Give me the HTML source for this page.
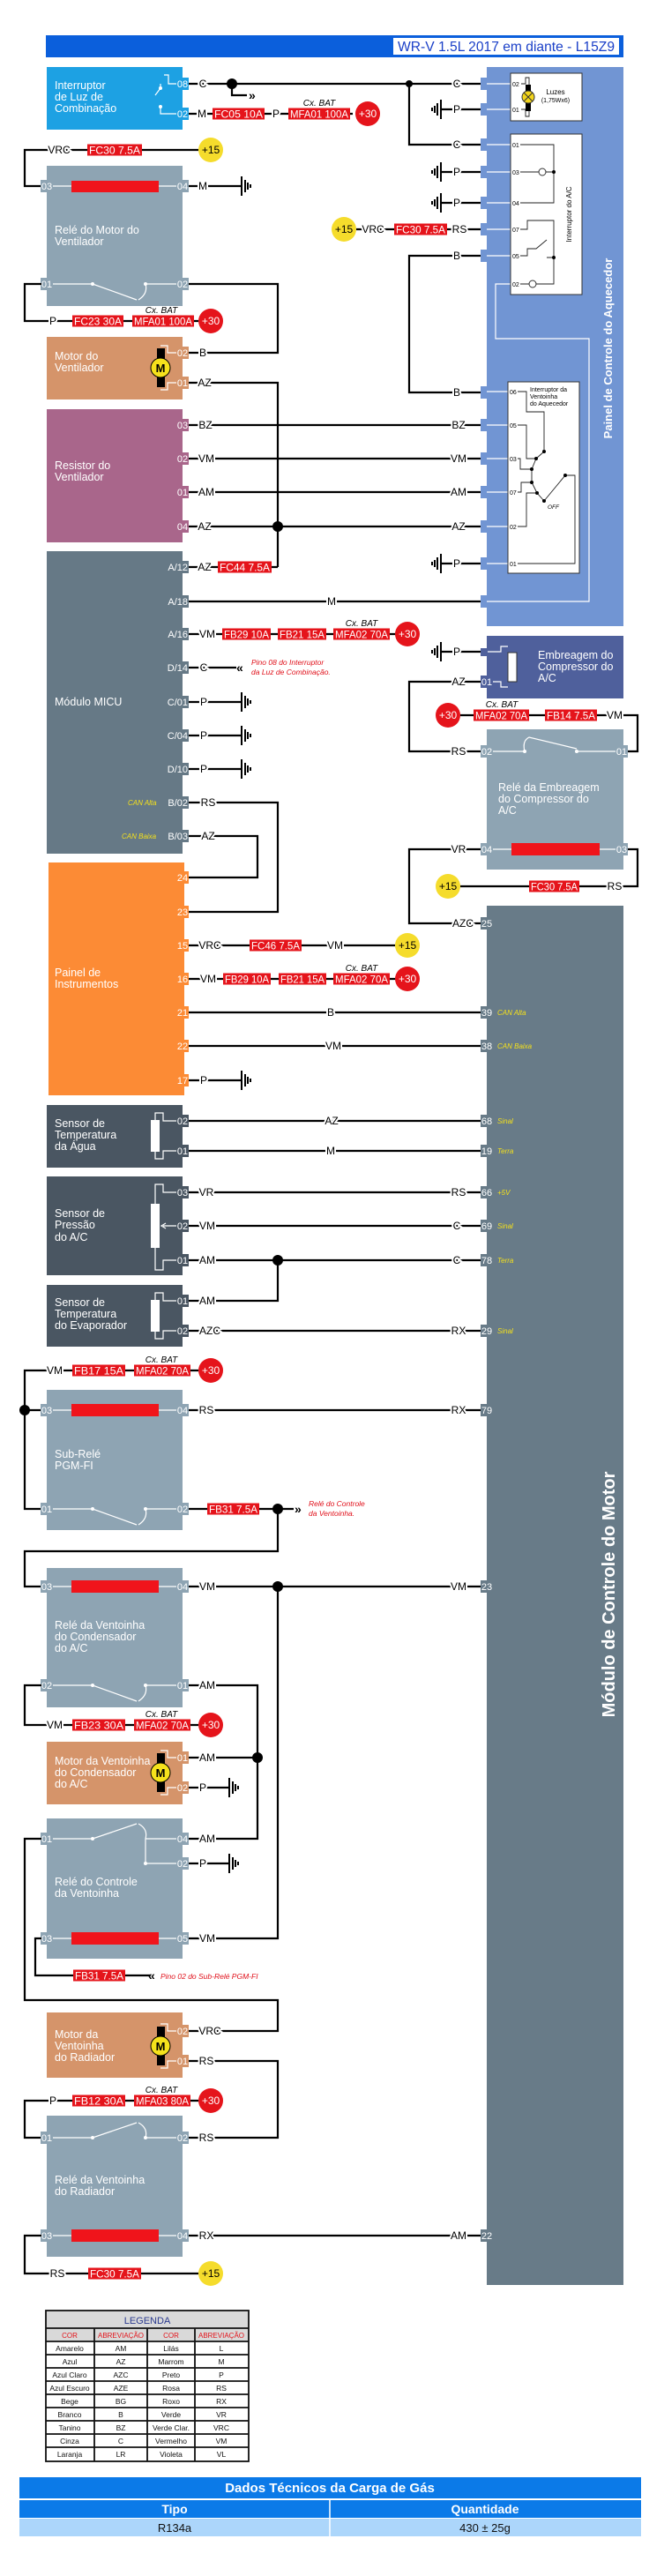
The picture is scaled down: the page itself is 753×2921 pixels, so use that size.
<!DOCTYPE html>
<html><head><meta charset="utf-8"><style>
html,body{margin:0;padding:0;background:#fff}
svg{display:block}
text{font-family:"Liberation Sans",sans-serif}
.w{stroke:#000;stroke-width:2.2;fill:none}
.tn{stroke:#222;stroke-width:0.9;fill:none}
.t{font-size:12px;fill:#000;stroke:#fff;stroke-width:4px;paint-order:stroke;text-anchor:middle}
.f{font-size:12px;fill:#fff;text-anchor:middle}
.p{font-size:11px;fill:#fff;text-anchor:middle}
.pb{font-size:11px;fill:#fff;text-anchor:end}
.bx{font-size:12.5px;fill:#fff}
.cx{font-size:10px;font-style:italic;text-anchor:middle}
.y{font-size:8px;font-style:italic;fill:#f4e01c}
.r{font-size:8.5px;font-style:italic;fill:#e0101a}
.sw{stroke:#fff;stroke-width:1.2;fill:none}
.ip{font-size:7px;fill:#000}
.lg{font-size:8.5px;fill:#111;text-anchor:middle}
</style></head><body>
<svg width="753" height="2921" viewBox="0 0 753 2921" xmlns="http://www.w3.org/2000/svg">
<defs>
<path id="gl" d="M0,-11V11M4,-7V7M7,-4V4M10,-2V2" stroke="#000" stroke-width="2" fill="none"/>
<path id="gr" d="M0,-11V11M-4,-7V7M-7,-4V4M-10,-2V2" stroke="#000" stroke-width="2" fill="none"/>
</defs>

<!-- Title -->
<rect x="52" y="40" width="655" height="25" fill="#0b5fdc"/>
<rect x="446" y="43" width="256" height="19" fill="#fff"/>
<text x="574" y="58" font-size="16" fill="#1a3fc8" text-anchor="middle" textLength="246" lengthAdjust="spacingAndGlyphs">WR-V 1.5L 2017 em diante - L15Z9</text>

<!-- Heater panel -->
<rect x="552" y="76" width="155" height="634" fill="#7195d3"/>
<g fill="#7195d3">
<rect x="545" y="88" width="8" height="14"/><rect x="545" y="117" width="8" height="14"/><rect x="545" y="157" width="8" height="14"/><rect x="545" y="188" width="8" height="14"/><rect x="545" y="223" width="8" height="14"/><rect x="545" y="253" width="8" height="14"/><rect x="545" y="283" width="8" height="14"/><rect x="545" y="438" width="8" height="14"/><rect x="545" y="475" width="8" height="14"/><rect x="545" y="513" width="8" height="14"/><rect x="545" y="551" width="8" height="14"/><rect x="545" y="590" width="8" height="14"/><rect x="545" y="632" width="8" height="14"/><rect x="545" y="675" width="8" height="14"/>
</g>
<text transform="translate(694,395) rotate(-90)" font-size="13" font-weight="bold" fill="#fff" text-anchor="middle">Painel de Controle do Aquecedor</text>
<g stroke="#fff" stroke-width="1.2" fill="none">
<path d="M552,95H579M552,124H579M552,164H579M552,195H579M552,230H579M552,260H579M552,290H579M552,444H576M552,482H576M552,520H576M552,558H576M552,597H576M552,639H576"/>
<path d="M579,322H562V384H668V682H552"/>
</g>
<!-- Luzes box -->
<rect x="579" y="83" width="81" height="54" fill="#fff" stroke="#333" stroke-width="1"/>
<text class="ip" x="581" y="98">02</text><text class="ip" x="581" y="127">01</text>
<path class="tn" d="M591,95H596V88H600V132H596V124H591"/>
<rect x="596" y="96" width="6" height="30" fill="#000"/>
<circle cx="599" cy="110" r="7" fill="#f3d51c" stroke="#333"/>
<path d="M594,105L604,115M604,105L594,115" stroke="#333" stroke-width="1"/>
<text x="630" y="107" font-size="8" text-anchor="middle">Luzes</text>
<text x="630" y="116" font-size="7" text-anchor="middle">(1,75Wx6)</text>
<!-- A/C switch box -->
<rect x="579" y="152" width="81" height="182" fill="#fff" stroke="#333" stroke-width="1"/>
<g class="ip"><text x="581" y="167">01</text><text x="581" y="198">03</text><text x="581" y="233">04</text><text x="581" y="263">07</text><text x="581" y="293">05</text><text x="581" y="325">02</text></g>
<path class="tn" d="M590,164H628V230H590M590,195H628M590,260H598V250H628V310M590,290H598V282H608L620,272M620,292H628M590,322H628V310"/>
<circle cx="615" cy="195" r="4" fill="#fff" stroke="#333"/><circle cx="604" cy="322" r="4" fill="#fff" stroke="#333"/>
<circle cx="628" cy="292" r="2" fill="#000"/><circle cx="628" cy="195" r="2" fill="#000"/>
<text transform="translate(648,243) rotate(-90)" font-size="8" text-anchor="middle">Interruptor do A/C</text>
<!-- Fan switch box -->
<rect x="576" y="433" width="81" height="217" fill="#fff" stroke="#333" stroke-width="1"/>
<g class="ip"><text x="578" y="447">06</text><text x="578" y="485">05</text><text x="578" y="523">03</text><text x="578" y="561">07</text><text x="578" y="600">02</text><text x="578" y="642">01</text></g>
<text x="601" y="444" font-size="7">Interruptor da</text><text x="601" y="452" font-size="7">Ventoinha</text><text x="601" y="460" font-size="7">do Aquecedor</text>
<path class="tn" d="M587,444H597V467H617V512M587,482H597V520H608L617,512M587,520H590V532H603L608,520M603,532V547L609,559L617,568M587,558H591V547H603M587,597H597V559H609M587,639H652V539H641L617,568"/>
<g fill="#000"><circle cx="617" cy="512" r="2"/><circle cx="608" cy="520" r="2"/><circle cx="603" cy="532" r="2"/><circle cx="603" cy="547" r="2"/><circle cx="609" cy="559" r="2"/><circle cx="617" cy="568" r="2"/><circle cx="641" cy="539" r="2"/></g>
<text x="621" y="577" font-size="6.5" font-style="italic">OFF</text>

<!-- Interruptor luz -->
<rect x="53" y="76" width="154" height="71" fill="#1da1e3"/>
<rect x="200" y="88" width="14" height="14" fill="#1da1e3"/><rect x="200" y="122" width="14" height="14" fill="#1da1e3"/>
<text class="p" x="207" y="99">08</text><text class="p" x="207" y="133">02</text>
<text class="bx" x="62" y="101">Interruptor</text><text class="bx" x="62" y="114">de Luz de</text><text class="bx" x="62" y="127">Combinação</text>
<path class="sw" d="M200,95H191V85H186M182,100V95M182,100L176,108M182,123V129H200M182,123V121" />
<circle cx="182" cy="100" r="2" fill="#fff"/><circle cx="182" cy="121" r="2" fill="#fff"/>
<path class="w" d="M214,95H545M263,95V108H280M464,95V164H545M214,129H400"/>
<circle cx="263" cy="95" r="6"/><circle cx="464" cy="95" r="4"/>
<text x="282" y="113" font-size="14" font-weight="bold">»</text>
<text class="t" x="230" y="99">C</text><text class="t" x="518" y="99">C</text><text class="t" x="518" y="168">C</text>
<text class="t" x="229" y="133">M</text>
<rect x="241" y="122.5" width="59" height="13" fill="#e5141b"/><text class="f" x="270.5" y="133.5" textLength="55" lengthAdjust="spacingAndGlyphs">FC05 10A</text>
<text class="t" x="313" y="133">P</text>
<rect x="327" y="122.5" width="70" height="13" fill="#e5141b"/><text class="f" x="362" y="133.5" textLength="66" lengthAdjust="spacingAndGlyphs">MFA01 100A</text>
<text class="cx" x="362" y="120">Cx. BAT</text>
<circle cx="417" cy="129" r="14" fill="#e5141b"/><text x="417" y="133" font-size="12" fill="#fff" text-anchor="middle">+30</text>

<!-- Heater right side wires -->
<path class="w" d="M500,124H545M500,195H545M500,230H545M404,260H545M545,290H464V445H545M500,639H545"/>
<use href="#gr" x="500" y="124"/><use href="#gr" x="500" y="195"/><use href="#gr" x="500" y="230"/><use href="#gr" x="500" y="639"/>
<text class="t" x="518" y="128">P</text><text class="t" x="518" y="199">P</text><text class="t" x="518" y="234">P</text><text class="t" x="518" y="643">P</text>
<circle cx="390" cy="260" r="14" fill="#f5dc2c"/><text x="390" y="264" font-size="12" text-anchor="middle">+15</text>
<text class="t" x="423" y="264">VRC</text>
<rect x="447" y="253.5" width="60" height="13" fill="#e5141b"/><text class="f" x="477" y="264.5" textLength="56" lengthAdjust="spacingAndGlyphs">FC30 7.5A</text>
<text class="t" x="521" y="264">RS</text>
<text class="t" x="518" y="294">B</text><text class="t" x="518" y="449">B</text>

<!-- Relay motor vent -->
<path class="w" d="M47,211H28V170H225"/>
<text class="t" x="67" y="174">VRC</text>
<rect x="99" y="163.5" width="62" height="13" fill="#e5141b"/><text class="f" x="130" y="174.5" textLength="58" lengthAdjust="spacingAndGlyphs">FC30 7.5A</text>
<circle cx="239" cy="170" r="14" fill="#f5dc2c"/><text x="239" y="174" font-size="12" text-anchor="middle">+15</text>
<rect x="53" y="188" width="154" height="159" fill="#8ea4b3"/>
<rect x="46" y="204" width="14" height="14" fill="#8ea4b3"/><rect x="200" y="204" width="14" height="14" fill="#8ea4b3"/>
<text class="p" x="53" y="215">03</text><text class="p" x="207" y="215">04</text>
<rect x="81" y="205" width="99" height="13" fill="#f0141b"/>
<path class="sw" d="M60,211H81M180,211H200"/>
<text class="bx" x="62" y="265">Relé do Motor do</text><text class="bx" x="62" y="278">Ventilador</text>
<rect x="46" y="315" width="14" height="14" fill="#8ea4b3"/><rect x="200" y="315" width="14" height="14" fill="#8ea4b3"/>
<text class="p" x="53" y="326">01</text><text class="p" x="207" y="326">02</text>
<path class="sw" d="M60,322H105L155,340M165,322Q168,333 157,340M165,322H200"/><circle cx="105" cy="322" r="2" fill="#fff"/><circle cx="165" cy="322" r="2" fill="#fff"/>
<path class="w" d="M214,211H274"/><use href="#gl" x="274" y="211"/><text class="t" x="230" y="215">M</text>
<path class="w" d="M214,322H315V400H214M47,322H28V364H225"/>
<text class="t" x="60" y="368">P</text>
<rect x="82" y="357.5" width="58" height="13" fill="#e5141b"/><text class="f" x="111" y="368.5" textLength="54" lengthAdjust="spacingAndGlyphs">FC23 30A</text>
<rect x="150" y="357.5" width="70" height="13" fill="#e5141b"/><text class="f" x="185" y="368.5" textLength="66" lengthAdjust="spacingAndGlyphs">MFA01 100A</text>
<text class="cx" x="183" y="355">Cx. BAT</text>
<circle cx="239" cy="364" r="14" fill="#e5141b"/><text x="239" y="368" font-size="12" fill="#fff" text-anchor="middle">+30</text>

<!-- Motor do ventilador -->
<rect x="53" y="382" width="154" height="71" fill="#d5946a"/>
<rect x="200" y="393" width="14" height="14" fill="#d5946a"/><rect x="200" y="427" width="14" height="14" fill="#d5946a"/>
<text class="p" x="207" y="404">02</text><text class="p" x="207" y="438">01</text>
<text class="bx" x="62" y="408">Motor do</text><text class="bx" x="62" y="421">Ventilador</text>
<path class="sw" d="M200,400H190V392H182M200,434H190V442H182"/>
<rect x="178" y="395" width="9" height="44" fill="#000"/><circle cx="182" cy="417" r="11" fill="#f5e11c" stroke="#000"/><text x="182" y="422" font-size="13" font-weight="bold" text-anchor="middle">M</text>
<text class="t" x="230" y="404">B</text>
<path class="w" d="M214,434H315V643"/><text class="t" x="232" y="438">AZ</text>

<!-- Resistor -->
<rect x="53" y="464" width="154" height="151" fill="#a9668b"/>
<g fill="#a9668b"><rect x="200" y="475" width="14" height="14"/><rect x="200" y="513" width="14" height="14"/><rect x="200" y="551" width="14" height="14"/><rect x="200" y="590" width="14" height="14"/></g>
<text class="p" x="207" y="486">03</text><text class="p" x="207" y="524">02</text><text class="p" x="207" y="562">01</text><text class="p" x="207" y="601">04</text>
<text class="bx" x="62" y="532">Resistor do</text><text class="bx" x="62" y="545">Ventilador</text>
<path class="w" d="M214,482H545M214,520H545M214,558H545M214,597H545"/>
<circle cx="315" cy="597" r="6"/>
<text class="t" x="233" y="486">BZ</text><text class="t" x="520" y="486">BZ</text>
<text class="t" x="234" y="524">VM</text><text class="t" x="520" y="524">VM</text>
<text class="t" x="234" y="562">AM</text><text class="t" x="520" y="562">AM</text>
<text class="t" x="232" y="601">AZ</text><text class="t" x="520" y="601">AZ</text>

<!-- MICU -->
<rect x="53" y="625" width="154" height="343" fill="#667986"/>
<text class="bx" x="62" y="800">Módulo MICU</text>
<g fill="#667986"><rect x="200" y="636" width="14" height="14"/><rect x="200" y="675" width="14" height="14"/><rect x="200" y="712" width="14" height="14"/><rect x="200" y="750" width="14" height="14"/><rect x="200" y="789" width="14" height="14"/><rect x="200" y="827" width="14" height="14"/><rect x="200" y="865" width="14" height="14"/><rect x="200" y="903" width="14" height="14"/><rect x="200" y="941" width="14" height="14"/></g>
<g class="pb"><text x="213" y="647">A/12</text><text x="213" y="686">A/18</text><text x="213" y="723">A/16</text><text x="213" y="761">D/14</text><text x="213" y="800">C/01</text><text x="213" y="838">C/04</text><text x="213" y="876">D/10</text><text x="213" y="914">B/02</text><text x="213" y="952">B/03</text></g>
<text class="y" x="145" y="913">CAN Alta</text><text class="y" x="138" y="951">CAN Baixa</text>
<path class="w" d="M214,643H315M214,682H545M214,719H450M214,757H268M214,796H274M214,834H274M214,872H274M214,910H315V1034H214M214,948H292V995H214"/>
<text class="t" x="232" y="647">AZ</text>
<rect x="247" y="636.5" width="61" height="13" fill="#e5141b"/><text class="f" x="277.5" y="647.5" textLength="57" lengthAdjust="spacingAndGlyphs">FC44 7.5A</text>
<text class="t" x="376" y="686">M</text>
<text class="t" x="235" y="723">VM</text>
<rect x="252" y="712.5" width="55" height="13" fill="#e5141b"/><text class="f" x="279.5" y="723.5" textLength="51" lengthAdjust="spacingAndGlyphs">FB29 10A</text>
<rect x="315" y="712.5" width="55" height="13" fill="#e5141b"/><text class="f" x="342.5" y="723.5" textLength="51" lengthAdjust="spacingAndGlyphs">FB21 15A</text>
<rect x="378" y="712.5" width="64" height="13" fill="#e5141b"/><text class="f" x="410" y="723.5" textLength="60" lengthAdjust="spacingAndGlyphs">MFA02 70A</text>
<text class="cx" x="410" y="710">Cx. BAT</text>
<circle cx="462" cy="719" r="14" fill="#e5141b"/><text x="462" y="723" font-size="12" fill="#fff" text-anchor="middle">+30</text>
<text class="t" x="231" y="761">C</text>
<text x="268" y="762" font-size="14" font-weight="bold">«</text>
<text class="r" x="285" y="754">Pino 08 do Interruptor</text><text class="r" x="285" y="765">da Luz de Combinação.</text>
<text class="t" x="231" y="800">P</text><text class="t" x="231" y="838">P</text><text class="t" x="231" y="876">P</text>
<use href="#gl" x="274" y="796"/><use href="#gl" x="274" y="834"/><use href="#gl" x="274" y="872"/>
<text class="t" x="236" y="914">RS</text><text class="t" x="236" y="952">AZ</text>

<!-- Embreagem -->
<rect x="552" y="721" width="155" height="71" fill="#4f609c"/>
<rect x="545" y="766" width="14" height="14" fill="#4f609c"/><text class="p" x="552" y="777">01</text>
<rect x="545" y="735" width="8" height="9" fill="#4f609c"/>
<path class="sw" d="M553,739H568V733H576M559,773H568V779H576"/>
<rect x="576" y="740" width="10" height="33" fill="#fff" stroke="#333"/>
<text class="bx" x="610" y="747">Embreagem do</text><text class="bx" x="610" y="760">Compressor do</text><text class="bx" x="610" y="773">A/C</text>
<path class="w" d="M500,739H545"/><use href="#gr" x="500" y="739"/><text class="t" x="518" y="743">P</text>
<path class="w" d="M545,773H464V852H545M522,811H723V852H712"/>
<text class="t" x="520" y="777">AZ</text><text class="t" x="520" y="856">RS</text>
<circle cx="508" cy="811" r="14" fill="#e5141b"/><text x="508" y="815" font-size="12" fill="#fff" text-anchor="middle">+30</text>
<rect x="537" y="804.5" width="63" height="13" fill="#e5141b"/><text class="f" x="568.5" y="815.5" textLength="59" lengthAdjust="spacingAndGlyphs">MFA02 70A</text>
<rect x="618" y="804.5" width="59" height="13" fill="#e5141b"/><text class="f" x="647.5" y="815.5" textLength="55" lengthAdjust="spacingAndGlyphs">FB14 7.5A</text>
<text class="cx" x="569" y="802">Cx. BAT</text>
<text class="t" x="697" y="815">VM</text>

<!-- Rele embreagem -->
<rect x="552" y="827" width="155" height="159" fill="#8ea4b3"/>
<rect x="545" y="845" width="14" height="14" fill="#8ea4b3"/><rect x="698" y="845" width="14" height="14" fill="#8ea4b3"/>
<text class="p" x="552" y="856">02</text><text class="p" x="705" y="856">01</text>
<path class="sw" d="M559,852H595M595,852Q592,840 600,836L654,849M654,852H698"/><circle cx="595" cy="852" r="2" fill="#fff"/><circle cx="654" cy="852" r="2" fill="#fff"/>
<text class="bx" x="565" y="897">Relé da Embreagem</text><text class="bx" x="565" y="910">do Compressor do</text><text class="bx" x="565" y="923">A/C</text>
<rect x="545" y="956" width="14" height="14" fill="#8ea4b3"/><rect x="698" y="956" width="14" height="14" fill="#8ea4b3"/>
<text class="p" x="552" y="967">04</text><text class="p" x="705" y="967">03</text>
<rect x="580" y="956" width="100" height="14" fill="#f0141b"/>
<path class="sw" d="M559,963H580M680,963H698"/>
<path class="w" d="M545,963H464V1047H545M712,963H723V1005H522"/>
<text class="t" x="520" y="967">VR</text><text class="t" x="525" y="1051">AZC</text>
<circle cx="508" cy="1005" r="14" fill="#f5dc2c"/><text x="508" y="1009" font-size="12" text-anchor="middle">+15</text>
<rect x="600" y="998.5" width="57" height="13" fill="#e5141b"/><text class="f" x="628.5" y="1009.5" textLength="53" lengthAdjust="spacingAndGlyphs">FC30 7.5A</text>
<text class="t" x="697" y="1009">RS</text>

<!-- Painel instrumentos -->
<rect x="55" y="978" width="154" height="264" fill="#fc8b35"/>
<text class="bx" x="62" y="1107">Painel de</text><text class="bx" x="62" y="1120">Instrumentos</text>
<g fill="#fc8b35"><rect x="200" y="988" width="14" height="14"/><rect x="200" y="1027" width="14" height="14"/><rect x="200" y="1065" width="14" height="14"/><rect x="200" y="1103" width="14" height="14"/><rect x="200" y="1141" width="14" height="14"/><rect x="200" y="1179" width="14" height="14"/><rect x="200" y="1218" width="14" height="14"/></g>
<g class="p"><text x="207" y="999">24</text><text x="207" y="1038">23</text><text x="207" y="1076">15</text><text x="207" y="1114">16</text><text x="207" y="1152">21</text><text x="207" y="1190">22</text><text x="207" y="1229">17</text></g>
<path class="w" d="M214,1072H448M214,1110H450M214,1148H545M214,1186H545M214,1225H274"/>
<use href="#gl" x="274" y="1225"/><text class="t" x="231" y="1229">P</text>
<text class="t" x="238" y="1076">VRC</text>
<rect x="283" y="1065.5" width="59" height="13" fill="#e5141b"/><text class="f" x="312.5" y="1076.5" textLength="55" lengthAdjust="spacingAndGlyphs">FC46 7.5A</text>
<text class="t" x="380" y="1076">VM</text>
<circle cx="462" cy="1072" r="14" fill="#f5dc2c"/><text x="462" y="1076" font-size="12" text-anchor="middle">+15</text>
<text class="t" x="236" y="1114">VM</text>
<rect x="253" y="1103.5" width="54" height="13" fill="#e5141b"/><text class="f" x="280" y="1114.5" textLength="50" lengthAdjust="spacingAndGlyphs">FB29 10A</text>
<rect x="316" y="1103.5" width="54" height="13" fill="#e5141b"/><text class="f" x="343" y="1114.5" textLength="50" lengthAdjust="spacingAndGlyphs">FB21 15A</text>
<rect x="378" y="1103.5" width="64" height="13" fill="#e5141b"/><text class="f" x="410" y="1114.5" textLength="60" lengthAdjust="spacingAndGlyphs">MFA02 70A</text>
<text class="cx" x="410" y="1101">Cx. BAT</text>
<circle cx="462" cy="1110" r="14" fill="#e5141b"/><text x="462" y="1114" font-size="12" fill="#fff" text-anchor="middle">+30</text>
<text class="t" x="375" y="1152">B</text><text class="t" x="378" y="1190">VM</text>

<!-- ECM -->
<rect x="552" y="1027" width="155" height="1564" fill="#687b88"/>
<text transform="translate(697,1808) rotate(-90)" font-size="20" font-weight="bold" fill="#fff" text-anchor="middle">Módulo de Controle do Motor</text>
<g fill="#687b88"><rect x="545" y="1040" width="14" height="14"/><rect x="545" y="1141" width="14" height="14"/><rect x="545" y="1179" width="14" height="14"/><rect x="545" y="1264" width="14" height="14"/><rect x="545" y="1298" width="14" height="14"/><rect x="545" y="1345" width="14" height="14"/><rect x="545" y="1383" width="14" height="14"/><rect x="545" y="1422" width="14" height="14"/><rect x="545" y="1502" width="14" height="14"/><rect x="545" y="1592" width="14" height="14"/><rect x="545" y="1792" width="14" height="14"/><rect x="545" y="2528" width="14" height="14"/></g>
<g class="p"><text x="552" y="1051">25</text><text x="552" y="1152">39</text><text x="552" y="1190">38</text><text x="552" y="1275">68</text><text x="552" y="1309">19</text><text x="552" y="1356">66</text><text x="552" y="1394">69</text><text x="552" y="1433">78</text><text x="552" y="1513">29</text><text x="552" y="1603">79</text><text x="552" y="1803">23</text><text x="552" y="2539">22</text></g>
<g class="y"><text x="564" y="1151">CAN Alta</text><text x="564" y="1189">CAN Baixa</text><text x="564" y="1274">Sinal</text><text x="564" y="1308">Terra</text><text x="564" y="1355">+5V</text><text x="564" y="1393">Sinal</text><text x="564" y="1432">Terra</text><text x="564" y="1512">Sinal</text></g>

<!-- Sensor agua -->
<rect x="53" y="1253" width="154" height="71" fill="#4a5662"/>
<g fill="#4a5662"><rect x="200" y="1264" width="14" height="14"/><rect x="200" y="1298" width="14" height="14"/></g>
<text class="p" x="207" y="1275">02</text><text class="p" x="207" y="1309">01</text>
<text class="bx" x="62" y="1278">Sensor de</text><text class="bx" x="62" y="1291">Temperatura</text><text class="bx" x="62" y="1304">da Água</text>
<path class="sw" d="M200,1271H185V1262H176V1271M200,1305H185V1314H176V1305"/>
<rect x="171" y="1270" width="10" height="36" fill="#fff"/>
<path class="w" d="M214,1271H545M214,1305H545"/>
<text class="t" x="376" y="1275">AZ</text><text class="t" x="375" y="1309">M</text>

<!-- Sensor pressao -->
<rect x="53" y="1334" width="154" height="112" fill="#4a5662"/>
<g fill="#4a5662"><rect x="200" y="1345" width="14" height="14"/><rect x="200" y="1383" width="14" height="14"/><rect x="200" y="1422" width="14" height="14"/></g>
<text class="p" x="207" y="1356">03</text><text class="p" x="207" y="1394">02</text><text class="p" x="207" y="1433">01</text>
<text class="bx" x="62" y="1380">Sensor de</text><text class="bx" x="62" y="1393">Pressão</text><text class="bx" x="62" y="1407">do A/C</text>
<path class="sw" d="M200,1352H185V1343H176V1365M200,1390H185M188,1387L183,1390L188,1393M200,1429H185V1440H176V1415"/>
<rect x="171" y="1365" width="10" height="50" fill="#fff"/>
<path class="w" d="M214,1352H545M214,1390H545M214,1429H545"/>
<circle cx="315" cy="1429" r="6"/>
<text class="t" x="234" y="1356">VR</text><text class="t" x="520" y="1356">RS</text>
<text class="t" x="235" y="1394">VM</text><text class="t" x="518" y="1394">C</text>
<text class="t" x="235" y="1433">AM</text><text class="t" x="518" y="1433">C</text>

<!-- Sensor evap -->
<rect x="53" y="1457" width="154" height="70" fill="#4a5662"/>
<g fill="#4a5662"><rect x="200" y="1468" width="14" height="14"/><rect x="200" y="1502" width="14" height="14"/></g>
<text class="p" x="207" y="1479">01</text><text class="p" x="207" y="1513">02</text>
<text class="bx" x="62" y="1481">Sensor de</text><text class="bx" x="62" y="1494">Temperatura</text><text class="bx" x="62" y="1507">do Evaporador</text>
<path class="sw" d="M200,1475H185V1466H176V1475M200,1509H185V1518H176V1509"/>
<rect x="171" y="1474" width="10" height="36" fill="#fff"/>
<path class="w" d="M214,1475H315V1429M214,1509H545"/>
<text class="t" x="235" y="1479">AM</text><text class="t" x="238" y="1513">AZC</text><text class="t" x="520" y="1513">RX</text>

<!-- Sub-rele -->
<path class="w" d="M225,1554H28V1711H47M28,1599H47"/>
<circle cx="28" cy="1599" r="6"/>
<text class="t" x="62" y="1558">VM</text>
<rect x="82" y="1547.5" width="60" height="13" fill="#e5141b"/><text class="f" x="112" y="1558.5" textLength="56" lengthAdjust="spacingAndGlyphs">FB17 15A</text>
<rect x="152" y="1547.5" width="64" height="13" fill="#e5141b"/><text class="f" x="184" y="1558.5" textLength="60" lengthAdjust="spacingAndGlyphs">MFA02 70A</text>
<text class="cx" x="183" y="1545">Cx. BAT</text>
<circle cx="239" cy="1554" r="14" fill="#e5141b"/><text x="239" y="1558" font-size="12" fill="#fff" text-anchor="middle">+30</text>
<rect x="53" y="1576" width="154" height="159" fill="#8ea4b3"/>
<g fill="#8ea4b3"><rect x="46" y="1592" width="14" height="14"/><rect x="200" y="1592" width="14" height="14"/><rect x="46" y="1704" width="14" height="14"/><rect x="200" y="1704" width="14" height="14"/></g>
<text class="p" x="53" y="1603">03</text><text class="p" x="207" y="1603">04</text><text class="p" x="53" y="1715">01</text><text class="p" x="207" y="1715">02</text>
<rect x="81" y="1592" width="99" height="14" fill="#f0141b"/>
<path class="sw" d="M60,1599H81M180,1599H200M60,1711H105L155,1729M165,1711Q168,1722 157,1729M165,1711H200"/><circle cx="105" cy="1711" r="2" fill="#fff"/><circle cx="165" cy="1711" r="2" fill="#fff"/>
<text class="bx" x="62" y="1653">Sub-Relé</text><text class="bx" x="62" y="1666">PGM-FI</text>
<path class="w" d="M214,1599H545M214,1711H333M315,1711V1759H28V1799H47"/>
<circle cx="315" cy="1711" r="6"/>
<text class="t" x="234" y="1603">RS</text><text class="t" x="520" y="1603">RX</text>
<rect x="235" y="1704.5" width="59" height="13" fill="#e5141b"/><text class="f" x="264.5" y="1715.5" textLength="55" lengthAdjust="spacingAndGlyphs">FB31 7.5A</text>
<text x="334" y="1716" font-size="14" font-weight="bold">»</text>
<text class="r" x="350" y="1708">Relé do Controle</text><text class="r" x="350" y="1719">da Ventoinha.</text>

<!-- Rele ventoinha condensador -->
<rect x="53" y="1778" width="154" height="158" fill="#8ea4b3"/>
<g fill="#8ea4b3"><rect x="46" y="1792" width="14" height="14"/><rect x="200" y="1792" width="14" height="14"/><rect x="46" y="1904" width="14" height="14"/><rect x="200" y="1904" width="14" height="14"/></g>
<text class="p" x="53" y="1803">03</text><text class="p" x="207" y="1803">04</text><text class="p" x="53" y="1915">02</text><text class="p" x="207" y="1915">01</text>
<rect x="81" y="1792" width="99" height="14" fill="#f0141b"/>
<path class="sw" d="M60,1799H81M180,1799H200M60,1911H105L155,1929M165,1911Q168,1922 157,1929M165,1911H200"/><circle cx="105" cy="1911" r="2" fill="#fff"/><circle cx="165" cy="1911" r="2" fill="#fff"/>
<text class="bx" x="62" y="1847">Relé da Ventoinha</text><text class="bx" x="62" y="1860">do Condensador</text><text class="bx" x="62" y="1873">do A/C</text>
<path class="w" d="M214,1799H545M315,1799V2198H214M214,1911H292V2085H214M47,1911H28V1956H225"/>
<circle cx="315" cy="1799" r="6"/><circle cx="292" cy="1993" r="6"/>
<text class="t" x="235" y="1803">VM</text><text class="t" x="520" y="1803">VM</text><text class="t" x="235" y="1915">AM</text>
<text class="t" x="62" y="1960">VM</text>
<rect x="82" y="1949.5" width="60" height="13" fill="#e5141b"/><text class="f" x="112" y="1960.5" textLength="56" lengthAdjust="spacingAndGlyphs">FB23 30A</text>
<rect x="152" y="1949.5" width="64" height="13" fill="#e5141b"/><text class="f" x="184" y="1960.5" textLength="60" lengthAdjust="spacingAndGlyphs">MFA02 70A</text>
<text class="cx" x="183" y="1947">Cx. BAT</text>
<circle cx="239" cy="1956" r="14" fill="#e5141b"/><text x="239" y="1960" font-size="12" fill="#fff" text-anchor="middle">+30</text>

<!-- Motor condensador -->
<rect x="53" y="1975" width="154" height="71" fill="#d5946a"/>
<g fill="#d5946a"><rect x="200" y="1986" width="14" height="14"/><rect x="200" y="2020" width="14" height="14"/></g>
<text class="p" x="207" y="1997">01</text><text class="p" x="207" y="2031">02</text>
<text class="bx" x="62" y="2001">Motor da Ventoinha</text><text class="bx" x="62" y="2014">do Condensador</text><text class="bx" x="62" y="2027">do A/C</text>
<path class="sw" d="M200,1993H190V1985H182M200,2027H190V2035H182"/>
<rect x="178" y="1988" width="9" height="44" fill="#000"/><circle cx="182" cy="2010" r="11" fill="#f5e11c" stroke="#000"/><text x="182" y="2015" font-size="13" font-weight="bold" text-anchor="middle">M</text>
<path class="w" d="M214,1993H292M214,2027H260"/><use href="#gl" x="260" y="2027"/>
<text class="t" x="235" y="1997">AM</text><text class="t" x="230" y="2031">P</text>

<!-- Rele controle ventoinha -->
<rect x="53" y="2062" width="154" height="159" fill="#8ea4b3"/>
<g fill="#8ea4b3"><rect x="46" y="2078" width="14" height="14"/><rect x="200" y="2078" width="14" height="14"/><rect x="200" y="2106" width="14" height="14"/><rect x="46" y="2191" width="14" height="14"/><rect x="200" y="2191" width="14" height="14"/></g>
<text class="p" x="53" y="2089">01</text><text class="p" x="207" y="2089">04</text><text class="p" x="207" y="2117">02</text><text class="p" x="53" y="2202">03</text><text class="p" x="207" y="2202">05</text>
<path class="sw" d="M60,2085H105L155,2068M165,2085Q168,2074 157,2068M165,2085H200M165,2085V2113H200"/><circle cx="105" cy="2085" r="2" fill="#fff"/><circle cx="165" cy="2113" r="2" fill="#fff"/>
<rect x="81" y="2191" width="99" height="14" fill="#f0141b"/>
<path class="sw" d="M60,2198H81M180,2198H200"/>
<text class="bx" x="62" y="2138">Relé do Controle</text><text class="bx" x="62" y="2151">da Ventoinha</text>
<path class="w" d="M214,2113H260M47,2198H40V2240H170M47,2085H28V2268H315V2303H214"/><use href="#gl" x="260" y="2113"/>
<text class="t" x="235" y="2089">AM</text><text class="t" x="230" y="2117">P</text><text class="t" x="235" y="2202">VM</text>
<rect x="83" y="2233.5" width="59" height="13" fill="#e5141b"/><text class="f" x="112.5" y="2244.5" textLength="55" lengthAdjust="spacingAndGlyphs">FB31 7.5A</text>
<text x="168" y="2245" font-size="14" font-weight="bold">«</text>
<text class="r" x="182" y="2244">Pino 02 do Sub-Relé PGM-FI</text>

<!-- Motor radiador -->
<rect x="53" y="2282" width="154" height="74" fill="#d5946a"/>
<g fill="#d5946a"><rect x="200" y="2296" width="14" height="14"/><rect x="200" y="2330" width="14" height="14"/></g>
<text class="p" x="207" y="2307">02</text><text class="p" x="207" y="2341">01</text>
<text class="bx" x="62" y="2311">Motor da</text><text class="bx" x="62" y="2324">Ventoinha</text><text class="bx" x="62" y="2337">do Radiador</text>
<path class="sw" d="M200,2303H190V2295H182M200,2337H190V2345H182"/>
<rect x="178" y="2298" width="9" height="44" fill="#000"/><circle cx="182" cy="2320" r="11" fill="#f5e11c" stroke="#000"/><text x="182" y="2325" font-size="13" font-weight="bold" text-anchor="middle">M</text>
<path class="w" d="M214,2337H315V2424H214M225,2382H28V2424H47"/>
<text class="t" x="238" y="2307">VRC</text><text class="t" x="234" y="2341">RS</text>
<text class="t" x="60" y="2386">P</text>
<rect x="82" y="2375.5" width="60" height="13" fill="#e5141b"/><text class="f" x="112" y="2386.5" textLength="56" lengthAdjust="spacingAndGlyphs">FB12 30A</text>
<rect x="152" y="2375.5" width="64" height="13" fill="#e5141b"/><text class="f" x="184" y="2386.5" textLength="60" lengthAdjust="spacingAndGlyphs">MFA03 80A</text>
<text class="cx" x="183" y="2373">Cx. BAT</text>
<circle cx="239" cy="2382" r="14" fill="#e5141b"/><text x="239" y="2386" font-size="12" fill="#fff" text-anchor="middle">+30</text>

<!-- Rele radiador -->
<rect x="53" y="2399" width="154" height="160" fill="#8ea4b3"/>
<g fill="#8ea4b3"><rect x="46" y="2417" width="14" height="14"/><rect x="200" y="2417" width="14" height="14"/><rect x="46" y="2528" width="14" height="14"/><rect x="200" y="2528" width="14" height="14"/></g>
<text class="p" x="53" y="2428">01</text><text class="p" x="207" y="2428">02</text><text class="p" x="53" y="2539">03</text><text class="p" x="207" y="2539">04</text>
<path class="sw" d="M60,2424H105L155,2407M165,2424Q168,2413 157,2407M165,2424H200"/><circle cx="105" cy="2424" r="2" fill="#fff"/><circle cx="165" cy="2424" r="2" fill="#fff"/>
<rect x="81" y="2528" width="99" height="14" fill="#f0141b"/>
<path class="sw" d="M60,2535H81M180,2535H200"/>
<text class="bx" x="62" y="2476">Relé da Ventoinha</text><text class="bx" x="62" y="2489">do Radiador</text>
<path class="w" d="M214,2535H545M47,2535H28V2578H225"/>
<text class="t" x="234" y="2428">RS</text><text class="t" x="234" y="2539">RX</text><text class="t" x="520" y="2539">AM</text>
<text class="t" x="65" y="2582">RS</text>
<rect x="100" y="2571.5" width="60" height="13" fill="#e5141b"/><text class="f" x="130" y="2582.5" textLength="56" lengthAdjust="spacingAndGlyphs">FC30 7.5A</text>
<circle cx="239" cy="2578" r="14" fill="#f5dc2c"/><text x="239" y="2582" font-size="12" text-anchor="middle">+15</text>

<!-- Legend -->
<rect x="52" y="2620" width="230" height="35" fill="#d9d9d9"/>
<rect x="52" y="2655" width="230" height="136" fill="#fff"/>
<text x="167" y="2635" font-size="11" fill="#2b3a8f" text-anchor="middle">LEGENDA</text>
<g font-size="8" fill="#e3141b" text-anchor="middle"><text x="79" y="2651">COR</text><text x="137" y="2651">ABREVIAÇÃO</text><text x="194" y="2651">COR</text><text x="251" y="2651">ABREVIAÇÃO</text></g>
<g stroke="#111" stroke-width="1.8" fill="none">
<rect x="52" y="2620" width="230" height="171"/>
<path d="M52,2640H282M52,2655H282M52,2670H282M52,2685H282M52,2700H282M52,2715H282M52,2730H282M52,2745H282M52,2760H282M52,2775H282M107,2640V2791M167,2640V2791M221,2640V2791"/>
</g>
<g class="lg">
<text x="79" y="2666">Amarelo</text><text x="137" y="2666">AM</text><text x="194" y="2666">Lilás</text><text x="251" y="2666">L</text>
<text x="79" y="2681">Azul</text><text x="137" y="2681">AZ</text><text x="194" y="2681">Marrom</text><text x="251" y="2681">M</text>
<text x="79" y="2696">Azul Claro</text><text x="137" y="2696">AZC</text><text x="194" y="2696">Preto</text><text x="251" y="2696">P</text>
<text x="79" y="2711">Azul Escuro</text><text x="137" y="2711">AZE</text><text x="194" y="2711">Rosa</text><text x="251" y="2711">RS</text>
<text x="79" y="2726">Bege</text><text x="137" y="2726">BG</text><text x="194" y="2726">Roxo</text><text x="251" y="2726">RX</text>
<text x="79" y="2741">Branco</text><text x="137" y="2741">B</text><text x="194" y="2741">Verde</text><text x="251" y="2741">VR</text>
<text x="79" y="2756">Tanino</text><text x="137" y="2756">BZ</text><text x="194" y="2756">Verde Clar.</text><text x="251" y="2756">VRC</text>
<text x="79" y="2771">Cinza</text><text x="137" y="2771">C</text><text x="194" y="2771">Vermelho</text><text x="251" y="2771">VM</text>
<text x="79" y="2786">Laranja</text><text x="137" y="2786">LR</text><text x="194" y="2786">Violeta</text><text x="251" y="2786">VL</text>
</g>

<!-- Gas table -->
<rect x="22" y="2809" width="705" height="24" fill="#0b7ae8"/>
<text x="374" y="2826" font-size="15" font-weight="bold" fill="#fff" text-anchor="middle">Dados Técnicos da Carga de Gás</text>
<rect x="22" y="2835" width="705" height="20" fill="#0b7ae8"/>
<rect x="22" y="2856" width="705" height="20" fill="#acd6fb"/>
<path d="M374,2835V2876" stroke="#fff" stroke-width="1.5"/>
<text x="198" y="2850" font-size="14" font-weight="bold" fill="#fff" text-anchor="middle">Tipo</text>
<text x="550" y="2850" font-size="14" font-weight="bold" fill="#fff" text-anchor="middle">Quantidade</text>
<text x="198" y="2871" font-size="13" fill="#111" text-anchor="middle">R134a</text>
<text x="550" y="2871" font-size="13" fill="#111" text-anchor="middle">430 ± 25g</text>
</svg>
</body></html>
